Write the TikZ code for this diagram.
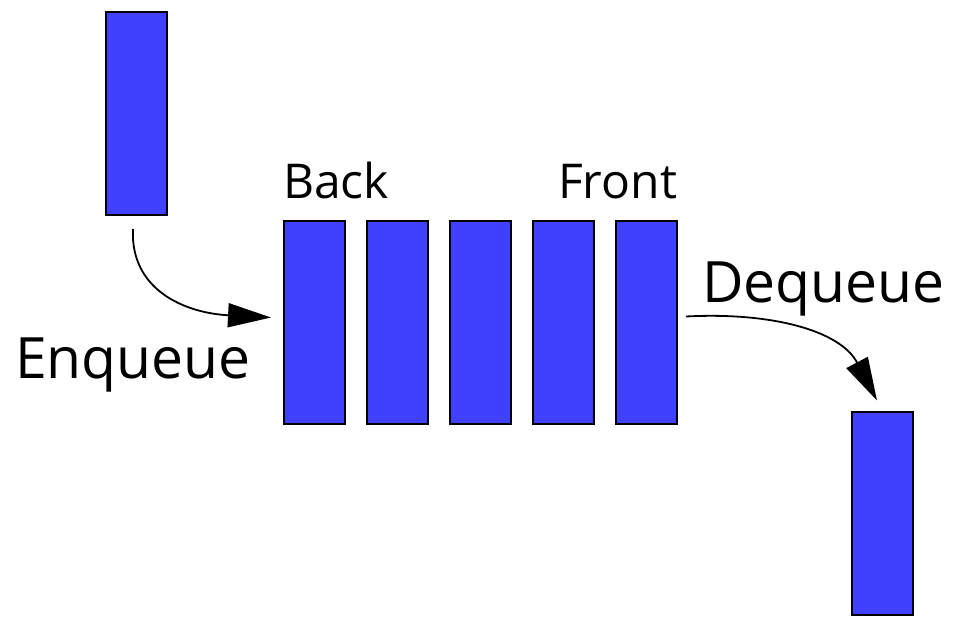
\documentclass[tikz,border=0pt]{standalone}
\usepackage{fontspec}
\setmainfont{Open Sans}
\usetikzlibrary{arrows.meta}
\definecolor{qblue}{RGB}{64,64,255}
\begin{document}
\begin{tikzpicture}[x=1pt,y=-1pt,
  item/.style={draw=black,line width=2pt,fill=qblue,minimum width=61pt,minimum height=203pt,inner sep=0pt,outer sep=0pt},
  conn/.style={line width=1.8pt,-{Triangle[length=43pt,width=24pt]}},
  lbl/.style={inner sep=0pt,anchor=base west}]
\useasboundingbox (0,0) rectangle (960,629);
\node[item] (top) at (136.5,113.5) {};
\node[item] (q1) at (314.5,322.5) {};
\node[item] (q2) at (397.5,322.5) {};
\node[item] (q3) at (480.5,322.5) {};
\node[item] (q4) at (563.5,322.5) {};
\node[item] (q5) at (646.5,322.5) {};
\node[item] (out) at (882.5,513) {};
\node[lbl,font=\fontsize{48}{54}\selectfont] (back) at (283,198) {Back};
\node[lbl,font=\fontsize{48}{54}\selectfont] (front) at (558,198) {Front};
\node[lbl,font=\fontsize{57}{64}\selectfont] (enq) at (15,378) {Enqueue};
\node[lbl,font=\fontsize{57}{64}\selectfont] (deq) at (702,302) {Dequeue};
\coordinate (e0) at ([xshift=-3.5pt,yshift=-14pt]top.south);
\coordinate (e1) at ([xshift=-13pt,yshift=5pt]q1.west);
\coordinate (d0) at ([xshift=9pt,yshift=6pt]q5.east);
\coordinate (d1) at ([xshift=-5.5pt,yshift=11pt]out.north);
\draw[conn] (e0) .. controls (130,290) and (185,313) .. (e1);
\draw[conn] (d0) .. controls (770,312) and (840,330) .. (d1);
\end{tikzpicture}
\end{document}
